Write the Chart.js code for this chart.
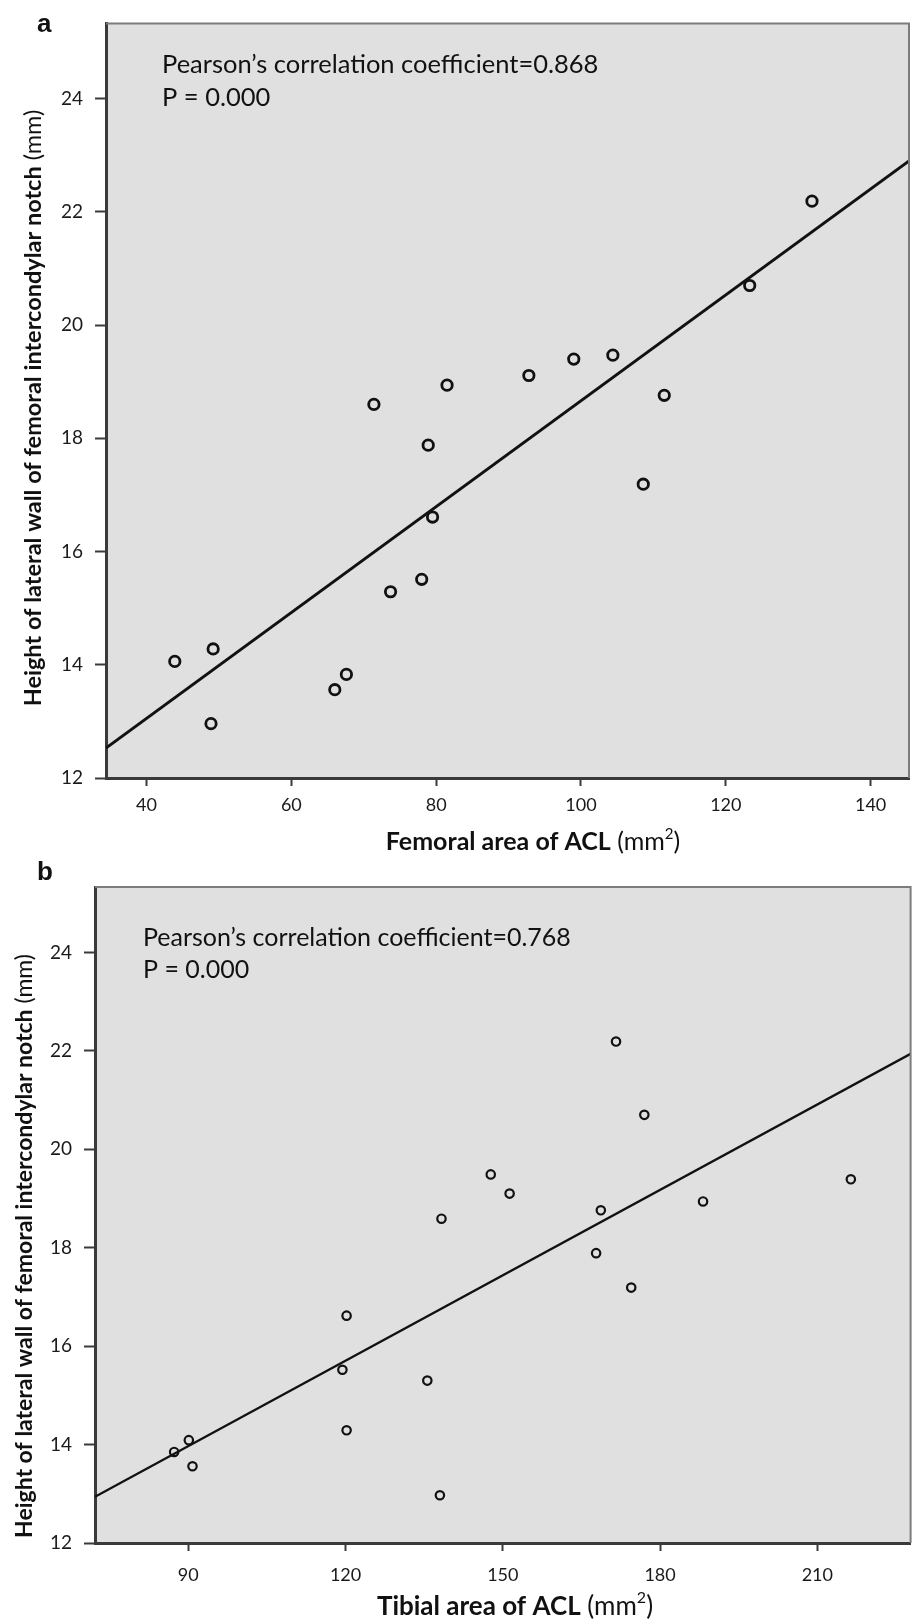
<!DOCTYPE html>
<html>
<head>
<meta charset="utf-8">
<script src="https://cdn.jsdelivr.net/npm/chart.js@4.4.0/dist/chart.umd.min.js"></script>
<style>
    body { margin: 0; background: #fff; }
    #wrap { position: relative; width: 917px; height: 1623px; }
    canvas { position: absolute; left: 0; }
    #graficoA { top: 0; width: 917px; height: 860px; }
    #graficoB { top: 860px; width: 917px; height: 763px; }
</style>
</head>
<body>
<div id="wrap">
    <canvas id="graficoA" width="917" height="860"></canvas>
    <canvas id="graficoB" width="917" height="763"></canvas>
</div>
<script>
// painel a: area femoral x altura da parede lateral
var femoralArea = [43.9, 48.9, 49.2, 66.0, 67.6, 71.4, 73.7, 78.0, 78.9, 79.5, 81.5, 92.8, 99.0, 104.4, 108.6, 111.5, 123.3, 131.9];
var notchHeightA = [14.06, 12.96, 14.28, 13.56, 13.83, 18.60, 15.29, 15.51, 17.88, 16.61, 18.94, 19.11, 19.40, 19.47, 17.19, 18.76, 20.70, 22.19];
var fitA_x = [34.4, 145.3];
var fitA_y = [12.53, 22.90];
var xTicksA = [40, 60, 80, 100, 120, 140];

// painel b: area tibial x altura da parede lateral
var tibialArea = [87.3, 90.1, 90.8, 119.4, 120.2, 120.2, 135.6, 138.0, 138.3, 147.7, 151.3, 167.8, 168.7, 171.6, 174.5, 177.0, 188.2, 216.4];
var notchHeightB = [13.85, 14.09, 13.56, 15.52, 16.62, 14.29, 15.30, 12.97, 18.59, 19.49, 19.10, 17.89, 18.76, 22.19, 17.19, 20.70, 18.94, 19.39];
var fitB_x = [72.2, 227.8];
var fitB_y = [12.94, 21.94];
var xTicksB = [90, 120, 150, 180, 210];

var yTicks = [12, 14, 16, 18, 20, 22, 24];

function escreveTitulo(ctx, partes, cx, cy) {
    var total = 0;
    partes.forEach(function (p) {
        ctx.font = p.font;
        p.w = ctx.measureText(p.t).width;
        total += p.w;
    });
    var x = cx - total / 2;
    partes.forEach(function (p) {
        ctx.font = p.font;
        ctx.fillText(p.t, x, cy + (p.dy || 0));
        x += p.w;
    });
}

// fundo cinza, moldura e textos
const moldura = {
    id: 'moldura',
    beforeDraw(chart) {
        const a = chart.chartArea;
        const ctx = chart.ctx;
        ctx.save();
        ctx.fillStyle = '#e0e0e0';
        ctx.fillRect(a.left, a.top, a.right - a.left, a.bottom - a.top);
        ctx.restore();
    },
    afterDraw(chart, args, o) {
        const a = chart.chartArea;
        const ctx = chart.ctx;
        ctx.save();
        ctx.strokeStyle = '#7c7c7c';
        ctx.lineWidth = 2;
        ctx.beginPath();
        ctx.moveTo(a.left, a.top);
        ctx.lineTo(a.right, a.top);
        ctx.lineTo(a.right, a.bottom);
        ctx.stroke();

        ctx.fillStyle = '#111';
        ctx.textBaseline = 'middle';
        ctx.textAlign = 'left';
        ctx.font = 'bold 26px "Liberation Sans"';
        ctx.fillText(o.letra, o.letraX, o.letraY);

        ctx.font = o.anotFont;
        for (var i = 0; i < o.anotacao.length; i++) {
            ctx.fillText(o.anotacao[i], o.anotX, o.anotY + i * o.anotGap);
        }

        escreveTitulo(ctx, o.tituloX, o.tituloXcx, o.tituloXcy);

        ctx.translate(o.tituloYcx, o.tituloYcy);
        ctx.rotate(-Math.PI / 2);
        escreveTitulo(ctx, o.tituloY, 0, 0);
        ctx.restore();
    }
};

function montaGrafico(idCanvas, xs, ys, fx, fy, xMin, xMax, xTicks, cfg) {
    var pontos = [];
    for (var i = 0; i < xs.length; i++) {
        pontos.push({ x: xs[i], y: ys[i] });
    }
    var reta = [];
    for (var j = 0; j < fx.length; j++) {
        reta.push({ x: fx[j], y: fy[j] });
    }

    const config = {
        type: 'scatter',
        data: {
            datasets: [{
                data: pontos,
                pointStyle: 'circle',
                pointRadius: cfg.raio,
                pointBorderWidth: cfg.borda,
                borderColor: '#111',
                backgroundColor: 'rgba(0,0,0,0)',
                order: 1
            }, {
                type: 'line',
                data: reta,
                borderColor: '#111',
                borderWidth: cfg.linha,
                pointRadius: 0,
                fill: false,
                order: 2
            }]
        },
        options: {
            responsive: false,
            animation: false,
            layout: { padding: { top: cfg.topo, right: 2, left: 0, bottom: 0 } },
            plugins: {
                legend: { display: false },
                tooltip: { enabled: false },
                moldura: cfg.textos
            },
            scales: {
                x: {
                    type: 'linear',
                    min: xMin,
                    max: xMax,
                    afterBuildTicks: function (s) { s.ticks = xTicks.map(function (v) { return { value: v }; }); },
                    afterFit: function (s) { s.height = cfg.altX; },
                    border: { color: '#3a3a3a', width: 3 },
                    grid: { drawOnChartArea: false, drawTicks: true, tickLength: 8, tickWidth: 2, tickColor: '#3a3a3a' },
                    ticks: { color: '#1a1a1a', padding: cfg.padX, maxRotation: 0, font: { family: 'Lato', size: 18 } }
                },
                y: {
                    type: 'linear',
                    min: 12,
                    max: 25.33,
                    afterBuildTicks: function (s) { s.ticks = yTicks.map(function (v) { return { value: v }; }); },
                    afterFit: function (s) { s.width = cfg.largY; },
                    border: { color: '#3a3a3a', width: 3 },
                    grid: { drawOnChartArea: false, drawTicks: true, tickLength: 11, tickWidth: 2, tickColor: '#3a3a3a' },
                    ticks: { color: '#1a1a1a', padding: 12, font: { family: 'Lato', size: 19 } }
                }
            }
        },
        plugins: [moldura]
    };
    return new Chart(document.getElementById(idCanvas), config);
}

montaGrafico('graficoA', femoralArea, notchHeightA, fitA_x, fitA_y, 34.4, 145.3, xTicksA, {
    raio: 5.2, borda: 2.8, linha: 2.8, topo: 10, altX: 82, largY: 106, padX: 8,
    textos: {
        letra: 'a', letraX: 37, letraY: 25,
        anotacao: ['Pearson\u2019s correlation coefficient=0.868', 'P = 0.000'],
        anotFont: '25.5px Lato', anotX: 162, anotY: 65, anotGap: 33,
        tituloX: [
            { t: 'Femoral area of ACL', font: 'bold 25px Lato' },
            { t: ' (mm', font: '25px Lato' },
            { t: '2', font: '15px Lato', dy: -8 },
            { t: ')', font: '25px Lato' }
        ],
        tituloXcx: 533, tituloXcy: 842,
        tituloY: [
            { t: 'Height of lateral wall of femoral intercondylar notch', font: 'bold 23.5px Lato' },
            { t: ' (mm)', font: '23.5px Lato' }
        ],
        tituloYcx: 33, tituloYcy: 408
    }
});

montaGrafico('graficoB', tibialArea, notchHeightB, fitB_x, fitB_y, 72.2, 227.8, xTicksB, {
    raio: 4.2, borda: 2.2, linha: 2.3, topo: 27, altX: 80, largY: 95, padX: 13,
    textos: {
        letra: 'b', letraX: 37, letraY: 13,
        anotacao: ['Pearson\u2019s correlation coefficient=0.768', 'P = 0.000'],
        anotFont: '25px Lato', anotX: 143, anotY: 78, anotGap: 32,
        tituloX: [
            { t: 'Tibial area of ACL', font: 'bold 26px Lato' },
            { t: ' (mm', font: '26px Lato' },
            { t: '2', font: '16px Lato', dy: -9 },
            { t: ')', font: '26px Lato' }
        ],
        tituloXcx: 515, tituloXcy: 747,
        tituloY: [
            { t: 'Height of lateral wall of femoral intercondylar notch', font: 'bold 23px Lato' },
            { t: ' (mm)', font: '23px Lato' }
        ],
        tituloYcx: 25, tituloYcy: 386
    }
});
</script>
</body>
</html>
